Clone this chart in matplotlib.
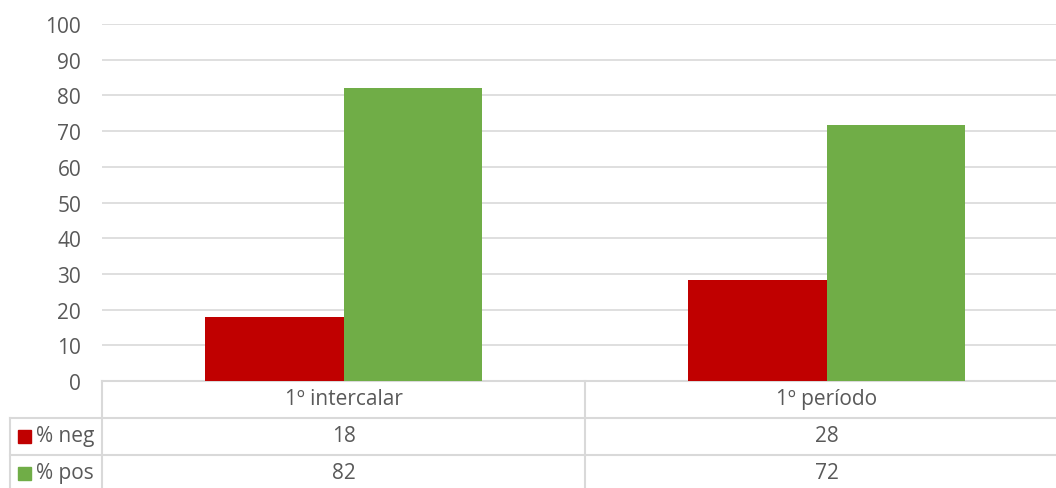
import matplotlib.pyplot as plt
import numpy as np

categories = ['1º intercalar', '1º período']
series_names = ['% neg', '% pos']
neg = [17.8, 28.4]
pos = [82.2, 71.6]
colors = ['#C00000', '#70AD47']

plt.rcParams['font.family'] = ['Open Sans', 'DejaVu Sans']
txt = '#595959'
grid = '#D9D9D9'
fs = 15

fig = plt.figure(figsize=(10.56, 4.89), dpi=100, facecolor='white')
# plot area runs a bit past the right edge, like the cropped original
ax = fig.add_axes([102 / 1056, 107 / 489, 966 / 1056, 357 / 489])

x = np.arange(len(categories))
w = 0.286
ax.bar(x - w / 2, neg, w, color=colors[0], zorder=3)
ax.bar(x + w / 2, pos, w, color=colors[1], zorder=3)

ax.set_xlim(-0.5, len(categories) - 0.5)
ax.set_ylim(0, 100)
ax.set_yticks(range(0, 101, 10))
ax.yaxis.grid(True, color=grid, linewidth=1.2, zorder=0)
ax.tick_params(axis='y', length=0, pad=15, labelsize=fs, labelcolor=txt)
ax.set_xticks([])
for s in ax.spines.values():
    s.set_visible(False)

# data table under the plot, in axes fraction for y
def px_y(p):
    return (382 - p) / 357

def px_x(p):
    return (p - 102) / 966

lk = dict(color=grid, linewidth=1.5, clip_on=False, transform=ax.transAxes)
ax.plot([0, 1], [0, 0], **lk)
for yy in [419, 456]:
    ax.plot([px_x(10), 1], [px_y(yy)] * 2, **lk)
ax.plot([px_x(10), px_x(10)], [px_y(419), px_y(495)], **lk)
for i in range(len(categories) + 1):
    xf = i / len(categories)
    ax.plot([xf, xf], [0, px_y(495)], **lk)

tk = dict(ha='center', va='center', fontsize=fs, color=txt, clip_on=False)
bt = ax.get_xaxis_transform()
for i, c in enumerate(categories):
    ax.text(i, px_y(400), c, transform=bt, **tk)
    ax.text(i, px_y(437), f'{round(neg[i])}', transform=bt, **tk)
    ax.text(i, px_y(474), f'{round(pos[i])}', transform=bt, **tk)

for name, col, yc in zip(series_names, colors, [437, 474]):
    fig.patches.append(plt.Rectangle((18 / 1056, (489 - yc - 6.5) / 489), 13 / 1056, 13 / 489,
                                     color=col, transform=fig.transFigure, figure=fig))
    fig.text(36 / 1056, (489 - yc) / 489, name, ha='left', va='center', fontsize=fs, color=txt)

fig.savefig('out.png', dpi=100, facecolor='white')
